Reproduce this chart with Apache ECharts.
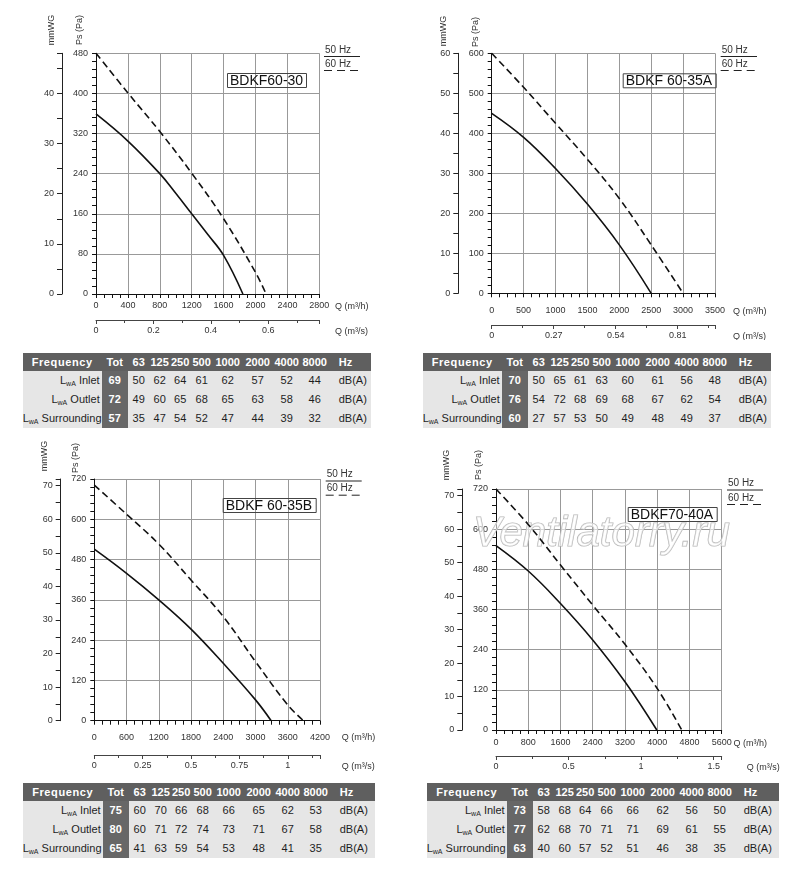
<!DOCTYPE html>
<html>
<head>
<meta charset="utf-8">
<title>BDKF fan curves</title>
<script src="https://cdn.jsdelivr.net/npm/echarts/dist/echarts.min.js"></script>
<style>
body { margin: 0; background: #fff; font-family: Arial, "Liberation Sans", sans-serif; }
#page { position: relative; width: 800px; height: 879px; overflow: hidden; }
.chart { position: absolute; width: 400px; }
.noise { position: absolute; border-collapse: collapse; table-layout: fixed; font: 11px Arial, "Liberation Sans", sans-serif; color: #1e1e1e; background: #e6e6e6; }
.noise td { padding: 0; text-align: center; white-space: nowrap; overflow: visible; line-height: 19px; }
.noise tr.hd td { background: #5f5f5f; color: #fff; font-weight: bold; height: 18px; line-height: 18px; }
.noise tr.bd td { height: 19px; }
.noise td.fq { letter-spacing: 0.6px; }
.noise td.tot { background: #676767; color: #fff; font-weight: bold; }
.noise td.lbl { text-align: right; padding-right: 2px; }
.noise td.unit { text-align: left; padding-left: 10px; }
.noise sub { font-size: 7px; line-height: 0; vertical-align: -2px; }
</style>
</head>
<body>
<div id="page">
	<div id="chart01" class="chart" style="left:0;top:0;height:340px;"></div>
	<div id="chart02" class="chart" style="left:400px;top:0;height:340px;"></div>
	<div id="chart03" class="chart" style="left:0;top:430px;height:345px;"></div>
	<div id="chart04" class="chart" style="left:400px;top:430px;height:345px;"></div>
	<table id="noise01" class="noise"></table>
	<table id="noise02" class="noise"></table>
	<table id="noise03" class="noise"></table>
	<table id="noise04" class="noise"></table>
</div>
<script>
var FONT = 'Arial, "Liberation Sans", sans-serif';

// BDKF60-30  (Q m3/h -> Ps Pa)
var flow6030_50 = [0, 400, 800, 1000, 1200, 1400, 1600, 1842];
var press6030_50 = [359, 305, 240, 201, 160, 119, 77, 0];
var flow6030_60 = [0, 400, 800, 1200, 1600, 2000, 2133];
var press6030_60 = [480, 401, 324, 241, 150, 43, 0];

// BDKF 60-35A
var flow6035A_50 = [0, 500, 1000, 1500, 2000, 2500];
var press6035A_50 = [450, 390, 312, 223, 121, 0];
var flow6035A_60 = [0, 500, 1000, 1500, 2000, 2500, 3000];
var press6035A_60 = [600, 515, 425, 335, 237, 121, 0];

// BDKF 60-35B
var flow6035B_50 = [0, 600, 1200, 1800, 2400, 3000, 3291];
var press6035B_50 = [511, 439, 360, 273, 171, 62, 0];
var flow6035B_60 = [0, 600, 1200, 1800, 2400, 3000, 3600, 3891];
var press6035B_60 = [702, 615, 526, 419, 310, 176, 47, 0];

// BDKF70-40A
var flow7040A_50 = [0, 800, 1600, 2400, 3200, 3990];
var press7040A_50 = [551, 475, 378, 269, 144, 0];
var flow7040A_60 = [0, 800, 1600, 2400, 3200, 4000, 4608];
var press7040A_60 = [720, 614, 493, 373, 256, 124, 0];

// noise tables
var freqBands = ['63', '125', '250', '500', '1000', '2000', '4000', '8000'];
var noiseRows = ['Inlet', 'Outlet', 'Surrounding'];

var noise6030Tot = [69, 72, 57];
var noise6030Inlet = [50, 62, 64, 61, 62, 57, 52, 44];
var noise6030Outlet = [49, 60, 65, 68, 65, 63, 58, 46];
var noise6030Surr = [35, 47, 54, 52, 47, 44, 39, 32];

var noise6035ATot = [70, 76, 60];
var noise6035AInlet = [50, 65, 61, 63, 60, 61, 56, 48];
var noise6035AOutlet = [54, 72, 68, 69, 68, 67, 62, 54];
var noise6035ASurr = [27, 57, 53, 50, 49, 48, 49, 37];

var noise6035BTot = [75, 80, 65];
var noise6035BInlet = [60, 70, 66, 68, 66, 65, 62, 53];
var noise6035BOutlet = [60, 71, 72, 74, 73, 71, 67, 58];
var noise6035BSurr = [41, 63, 59, 54, 53, 48, 41, 35];

var noise7040ATot = [73, 77, 63];
var noise7040AInlet = [58, 68, 64, 66, 66, 62, 56, 50];
var noise7040AOutlet = [62, 68, 70, 71, 71, 69, 61, 55];
var noise7040ASurr = [40, 60, 57, 52, 51, 46, 38, 35];

function pairs(xs, ys) {
	var out = [];
	for (var i = 0; i < xs.length; i++) {
		out.push([xs[i], ys[i]]);
	}
	return out;
}

function plainNumber(v) {
	return String(v);
}

function textAt(text, x, y, size, extra) {
	var el = {
		type: 'text',
		x: x,
		y: y,
		style: { text: text, font: size + 'px ' + FONT, fill: '#333', verticalAlign: 'middle' }
	};
	if (extra) {
		for (var k in extra) el[k] = extra[k];
	}
	return el;
}

function rotatedName(text, pos) {
	var el = textAt(text, pos[0], pos[1], 9, { rotation: Math.PI / 2 });
	el.style.align = 'center';
	return el;
}

function hzLegend(lg) {
	return [
		textAt('50 Hz', lg.x, lg.y50, 10),
		{ type: 'line', shape: { x1: lg.x - 1, y1: lg.y50 + 6.5, x2: lg.x2, y2: lg.y50 + 6.5 }, style: { stroke: '#222', lineWidth: 1 } },
		textAt('60 Hz', lg.x, lg.y60, 10),
		{ type: 'line', shape: { x1: lg.x - 1, y1: lg.y60 + 6.5, x2: lg.x2, y2: lg.y60 + 6.5 }, style: { stroke: '#222', lineWidth: 1, lineDash: [8, 5] } }
	];
}

function renderFanChart(domId, cfg) {
	var myChart = echarts.init(document.getElementById(domId));
	var label = { fontSize: 9, color: '#333', fontFamily: FONT, formatter: plainNumber };
	var g = cfg.grid;
	var right = g[0] + g[2];
	var bottom = g[1] + g[3];

	var graphic = [
		rotatedName('mmWG', cfg.wgName),
		rotatedName('Ps (Pa)', cfg.paName),
		textAt('Q (m³/h)', right + cfg.nameGap[0], bottom + cfg.labelMargin + 5, 9),
		textAt('Q (m³/s)', right + cfg.nameGap[1], bottom + cfg.secOffset + 11.5, 9)
	].concat(hzLegend(cfg.legend));

	if (cfg.watermark) {
		graphic.push({
			type: 'text',
			x: cfg.watermark[0],
			y: cfg.watermark[1],
			z: 1,
			style: {
				text: 'Ventilatorry.ru',
				font: 'italic 42px ' + FONT,
				fill: 'rgba(255,255,255,0.6)',
				stroke: '#b4b4b4',
				lineWidth: 1.2,
				verticalAlign: 'middle'
			}
		});
	}

	myChart.setOption({
		animation: false,
		title: {
			text: cfg.model,
			left: cfg.titlePos[0],
			top: cfg.titlePos[1],
			padding: [1, 4, 0, 3],
			borderColor: '#444',
			borderWidth: 1,
			textStyle: { fontSize: 14, lineHeight: 14, fontWeight: 'normal', color: '#111', fontFamily: FONT }
		},
		grid: {
			left: g[0],
			top: g[1],
			width: g[2],
			height: g[3],
			outerBoundsMode: 'none'
		},
		xAxis: [{
			type: 'value',
			min: 0,
			max: cfg.qMax,
			interval: cfg.qStep,
			axisLine: { show: true, onZero: false, lineStyle: { color: '#111', width: 1 } },
			axisTick: { show: true, length: 4, lineStyle: { color: '#111' } },
			minorTick: { show: true, splitNumber: 4, length: 4, lineStyle: { color: '#111' } },
			axisLabel: Object.assign({ margin: cfg.labelMargin }, label),
			splitLine: { show: true, lineStyle: { color: '#999', width: 1 } }
		}, {
			type: 'value',
			min: 0,
			max: cfg.qMax / 3600,
			interval: cfg.secStep,
			position: 'bottom',
			offset: cfg.secOffset,
			axisLine: { show: true, onZero: false, lineStyle: { color: '#444', width: 1 } },
			axisTick: { show: true, length: 4, lineStyle: { color: '#444' } },
			minorTick: { show: true, splitNumber: 2, length: 3, lineStyle: { color: '#444' } },
			axisLabel: Object.assign({ margin: 6.5, showMaxLabel: false }, label),
			splitLine: { show: false }
		}],
		yAxis: [{
			type: 'value',
			min: 0,
			max: cfg.paMax,
			interval: cfg.paStep,
			axisLine: { show: true, onZero: false, lineStyle: { color: '#111', width: 1 } },
			axisTick: { show: true, length: 4, lineStyle: { color: '#111' } },
			minorTick: { show: true, splitNumber: 5, length: 4, lineStyle: { color: '#111' } },
			axisLabel: Object.assign({ margin: 8 }, label),
			splitLine: { show: true, lineStyle: { color: '#999', width: 1 } }
		}, {
			type: 'value',
			min: 0,
			max: cfg.paMax / 10,
			interval: 10,
			position: 'left',
			offset: cfg.wgOffset,
			axisLine: { show: true, onZero: false, lineStyle: { color: '#222', width: 1 } },
			axisTick: { show: true, length: 5, lineStyle: { color: '#222' } },
			minorTick: { show: true, splitNumber: 2, length: 5, lineStyle: { color: '#222' } },
			axisLabel: Object.assign({ margin: 8, showMaxLabel: cfg.paMax % 100 === 0 }, label),
			splitLine: { show: false }
		}],
		graphic: graphic,
		series: [{
			name: '50 Hz',
			type: 'line',
			data: cfg.curve50,
			smooth: 0.4,
			showSymbol: false,
			z: 3,
			lineStyle: { color: '#111', width: 1.6 }
		}, {
			name: '60 Hz',
			type: 'line',
			data: cfg.curve60,
			smooth: 0.4,
			showSymbol: false,
			z: 3,
			lineStyle: { color: '#111', width: 1.6, type: [7, 4] }
		}]
	});
}

function renderNoiseTable(id, left, top, labelWidth, lastWidth, tot, inlet, outlet, surr) {
	var widths = [labelWidth, 26, 22, 20, 21, 22, 30, 30, 28, 28, lastWidth];
	var total = 0;
	var html = '<colgroup>';
	for (var i = 0; i < widths.length; i++) {
		html += '<col style="width:' + widths[i] + 'px">';
		total += widths[i];
	}
	html += '</colgroup>';

	html += '<tr class="hd"><td class="fq">Frequency</td><td class="tot">Tot</td>';
	for (var b = 0; b < freqBands.length; b++) {
		html += '<td>' + freqBands[b] + '</td>';
	}
	html += '<td class="unit">Hz</td></tr>';

	var rows = [inlet, outlet, surr];
	for (var r = 0; r < rows.length; r++) {
		html += '<tr class="bd"><td class="lbl">L<sub>wA</sub> ' + noiseRows[r] + '</td><td class="tot">' + tot[r] + '</td>';
		for (var c = 0; c < rows[r].length; c++) {
			html += '<td>' + rows[r][c] + '</td>';
		}
		html += '<td class="unit">dB(A)</td></tr>';
	}

	var tbl = document.getElementById(id);
	tbl.style.left = left + 'px';
	tbl.style.top = top + 'px';
	tbl.style.width = total + 'px';
	tbl.innerHTML = html;
}

renderFanChart('chart01', {
	model: 'BDKF60-30',
	titlePos: [227, 73],
	grid: [96, 53.3, 223.3, 240.7],
	qMax: 2800, qStep: 400, paMax: 480, paStep: 80, secStep: 0.2,
	secOffset: 26, wgOffset: 34, labelMargin: 7.5, nameGap: [15.7, 15.7],
	wgName: [51.7, 30], paName: [80, 30],
	legend: { x: 325, y50: 50, y60: 64, x2: 360 },
	curve50: pairs(flow6030_50, press6030_50),
	curve60: pairs(flow6030_60, press6030_60)
});

renderFanChart('chart02', {
	model: 'BDKF 60-35A',
	titlePos: [222.7, 73.3],
	grid: [91.7, 53.3, 223.3, 240],
	qMax: 3500, qStep: 500, paMax: 600, paStep: 100, secStep: 0.27,
	secOffset: 31.7, wgOffset: 33.4, labelMargin: 13, nameGap: [18, 18],
	wgName: [43.3, 31], paName: [76, 32],
	legend: { x: 321.7, y50: 50, y60: 64, x2: 357 },
	curve50: pairs(flow6035A_50, press6035A_50),
	curve60: pairs(flow6035A_60, press6035A_60)
});

renderFanChart('chart03', {
	model: 'BDKF 60-35B',
	titlePos: [222.7, 68],
	grid: [94.3, 49, 225.7, 241.7],
	qMax: 4200, qStep: 600, paMax: 720, paStep: 120, secStep: 0.25,
	secOffset: 34.3, wgOffset: 33.6, labelMargin: 12, nameGap: [21.7, 21.7],
	wgName: [45, 26], paName: [76, 28],
	legend: { x: 326.7, y50: 44.5, y60: 58.7, x2: 361.7 },
	curve50: pairs(flow6035B_50, press6035B_50),
	curve60: pairs(flow6035B_60, press6035B_60)
});

renderFanChart('chart04', {
	model: 'BDKF70-40A',
	titlePos: [227.7, 77],
	grid: [96, 59, 225.7, 241],
	qMax: 5600, qStep: 800, paMax: 720, paStep: 120, secStep: 0.5,
	secOffset: 26, wgOffset: 33.7, labelMargin: 8.5, nameGap: [11.7, 25],
	wgName: [46.7, 35], paName: [79, 35],
	legend: { x: 328, y50: 53.5, y60: 68, x2: 363 },
	watermark: [73, 104],
	curve50: pairs(flow7040A_50, press7040A_50),
	curve60: pairs(flow7040A_60, press7040A_60)
});

renderNoiseTable('noise01', 22.7, 352.7, 79, 42, noise6030Tot, noise6030Inlet, noise6030Outlet, noise6030Surr);
renderNoiseTable('noise02', 422.7, 352.7, 79, 42, noise6035ATot, noise6035AInlet, noise6035AOutlet, noise6035ASurr);
renderNoiseTable('noise03', 22.7, 783.3, 80, 45, noise6035BTot, noise6035BInlet, noise6035BOutlet, noise6035BSurr);
renderNoiseTable('noise04', 426.7, 783.3, 80, 45, noise7040ATot, noise7040AInlet, noise7040AOutlet, noise7040ASurr);
</script>
</body>
</html>
